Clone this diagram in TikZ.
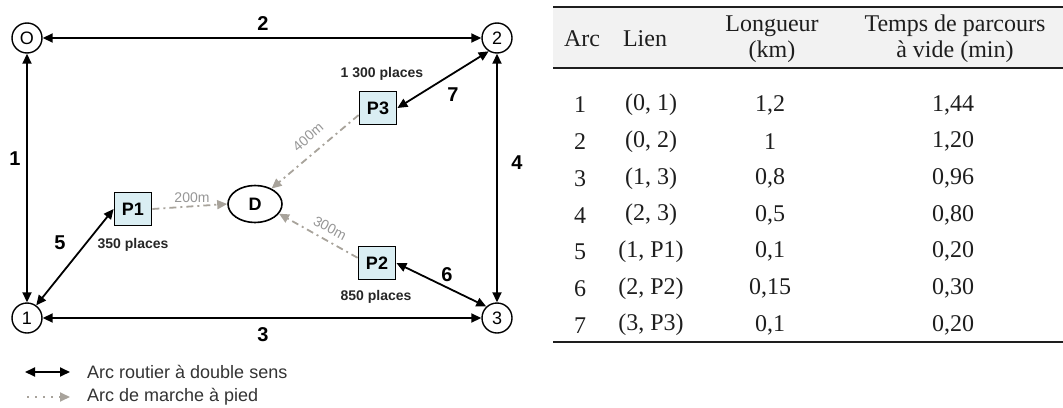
\documentclass[tikz,border=0pt]{standalone}
\usepackage{fontspec}
\setmainfont{Liberation Sans}
\newfontfamily\tabfont{Liberation Serif}
\usetikzlibrary{arrows.meta,shapes.geometric}
\definecolor{boxfill}{RGB}{218,238,243}
\definecolor{walk}{RGB}{168,163,155}
\definecolor{walktxt}{RGB}{150,150,150}
\definecolor{hdr}{RGB}{242,242,242}
\definecolor{legtxt}{RGB}{51,51,51}
\definecolor{tabink}{RGB}{30,30,30}
\tikzset{
 circnode/.style={circle,draw,line width=1.4pt,minimum size=30pt,inner sep=0pt,font=\fontsize{18}{18}\selectfont},
 parkbox/.style={rectangle,draw,line width=1.8pt,fill=boxfill,minimum width=37pt,minimum height=33pt,inner sep=0pt,font=\bfseries\fontsize{18}{18}\selectfont},
 destnode/.style={ellipse,draw,line width=1.6pt,minimum width=54pt,minimum height=37pt,inner sep=0pt,font=\bfseries\fontsize{18}{18}\selectfont},
 road/.style={line width=1.8pt,{Triangle[length=10pt,width=9pt]}-{Triangle[length=10pt,width=9pt]}},
 walkarc/.style={walk,line width=1.8pt,dash pattern=on 7pt off 4pt on 2pt off 4pt,-{Triangle[length=10pt,width=9pt]}},
 arclbl/.style={inner sep=0pt,font=\bfseries\fontsize{20}{20}\selectfont},
 caplbl/.style={inner sep=0pt,font=\bfseries\fontsize{14}{14}\selectfont,text=black!85},
 distlbl/.style={inner sep=0pt,font=\fontsize{14}{14}\selectfont,text=walktxt},
 legtext/.style={inner sep=0pt,font=\fontsize{18}{18}\selectfont,text=legtxt,anchor=west},
 tabtxt/.style={inner sep=0pt,font=\tabfont\fontsize{24}{26}\selectfont,align=center,text=tabink},
}
\begin{document}
\begin{tikzpicture}[x=1pt,y=-1pt]
\useasboundingbox (0,0) rectangle (1063,407);
% ---------- network ----------
\node[circnode] (nO) at (27,38) {O};
\node[circnode] (n2) at (497,38) {2};
\node[circnode] (n1) at (27,318) {1};
\node[circnode] (n3) at (497,318) {3};
\node[parkbox] (P1) at (133,209) {P1};
\node[parkbox] (P3) at (378,108) {P3};
\node[parkbox] (P2) at (377,263) {P2};
\node[destnode] (D) at (255,204) {D};

\draw[road] (nO) -- (n2);
\draw[road] (nO) -- (n1);
\draw[road] (n2) -- (n3);
\draw[road] (n1) -- (n3);
\draw[road] (n1.54) -- (P1.west);
\draw[road] (n2.238) -- (P3.east);
\draw[road] (n3.133) -- (P2.east);

\draw[walkarc] (P1.east) -- (D.west);
\draw[walkarc] (P3.200) -- (D.43);
\draw[walkarc] (P2.165) -- (D.-22);

\node[arclbl] (l2) at (263,24) {2};
\node[arclbl] (l1) at (15,159) {1};
\node[arclbl] (l4) at (517,163) {4};
\node[arclbl] (l3) at (263,335) {3};
\node[arclbl] (l5) at (60,243) {5};
\node[arclbl] (l6) at (447,275) {6};
\node[arclbl] (l7) at (453,95) {7};

\node[caplbl] (c3) at (382,74) {1 300 places};
\node[caplbl] (c1) at (133,245) {350 places};
\node[caplbl] (c2) at (376,297) {850 places};

\node[distlbl] (d1) at (192,198) {200m};
\node[distlbl,rotate=41] (d3) at (308,137) {400m};
\node[distlbl,rotate=-28] (d2) at (330,228) {300m};

% ---------- legend ----------
\coordinate (la1) at (25,372);
\coordinate (la2) at (70,372);
\draw[road] (la1) -- (la2);
\node[legtext] (lt1) at (87,372) {Arc routier à double sens};
\coordinate (lb1) at (27,397);
\coordinate (lb2) at (70,397);
\draw[walk,line width=1.8pt,dash pattern=on 2pt off 6pt,-{Triangle[length=10pt,width=9pt]}] (lb1) -- (lb2);
\node[legtext] (lt2) at (87,397) {Arc de marche à pied};

% ---------- table ----------
\fill[hdr] (553,7) rectangle (1063,68);
\draw[line width=2pt,tabink] (553,7) -- (1063,7);
\draw[line width=2pt,tabink] (553,68) -- (1063,68);
\draw[line width=1.6pt,tabink] (553,342) -- (1063,342);
\node[tabtxt] (h1) at (582,39) {Arc};
\node[tabtxt] (h2) at (645,39) {Lien};
\node[tabtxt] (h3) at (772,39) {Longueur\\(km)};
\node[tabtxt] (h4) at (955,39) {Temps de parcours\\à vide (min)};
\foreach \a/\l/\k/\t [count=\i] in {1/{(0, 1)}/{1,2}/{1,44},2/{(0, 2)}/{1}/{1,20},3/{(1, 3)}/{0,8}/{0,96},4/{(2, 3)}/{0,5}/{0,80},5/{(1, P1)}/{0,1}/{0,20},6/{(2, P2)}/{0,15}/{0,30},7/{(3, P3)}/{0,1}/{0,20}}{
  \node[tabtxt] (ra\i) at (580,{105+36.7*(\i-1)}) {\a};
  \node[tabtxt] (rl\i) at (651,{105+36.7*(\i-1)}) {\l};
  \node[tabtxt] (rk\i) at (770,{105+36.7*(\i-1)}) {\k};
  \node[tabtxt] (rt\i) at (953,{105+36.7*(\i-1)}) {\t};
}
\end{tikzpicture}
\end{document}
